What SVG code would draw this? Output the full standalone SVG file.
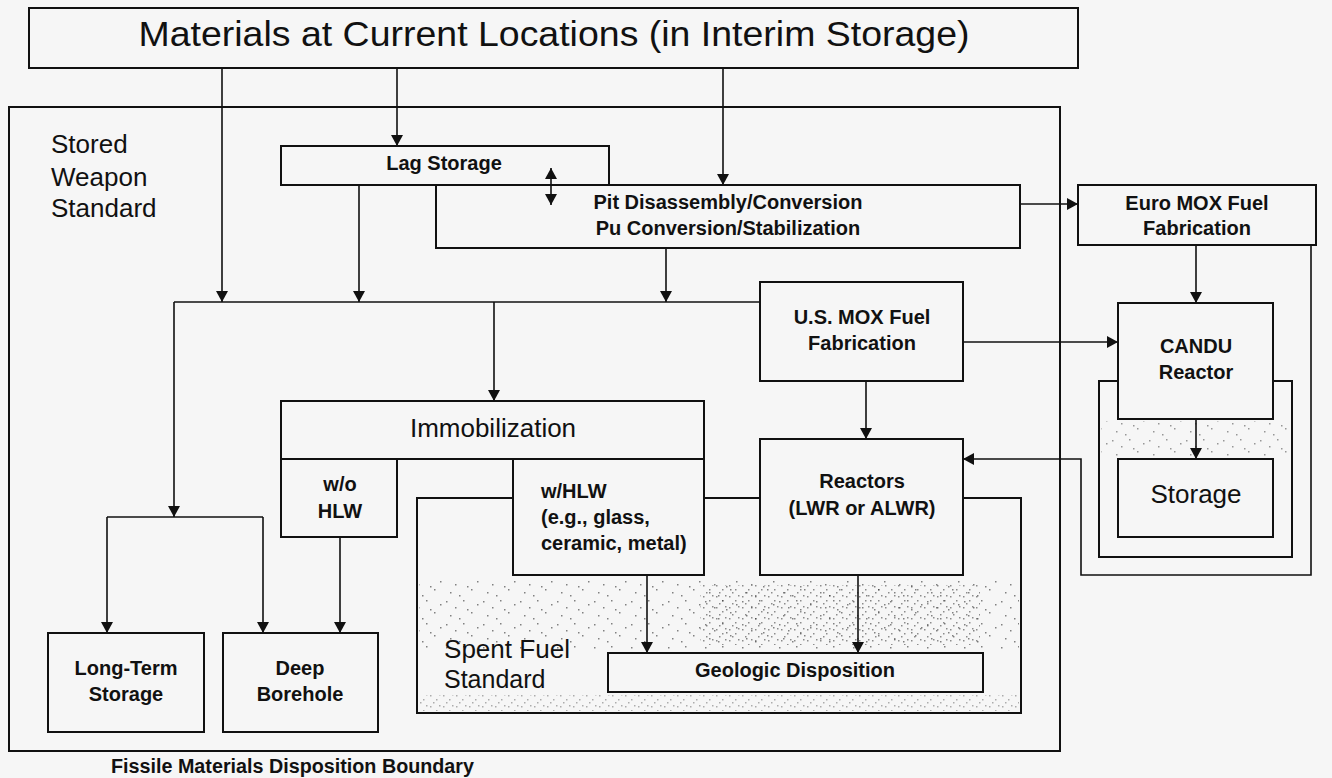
<svg xmlns="http://www.w3.org/2000/svg" width="1332" height="778" viewBox="0 0 1332 778">
<style>
.bx{fill:#f6f6f6;stroke:#111;stroke-width:2}
.fr{fill:none;stroke:#111;stroke-width:2}
.ln{fill:none;stroke:#111;stroke-width:1.6}
.ar{fill:none;stroke:#111;stroke-width:1.6;marker-end:url(#ah)}
text{font-family:"Liberation Sans",Arial,sans-serif;fill:#111}
.t21{font-size:20px;font-weight:bold;text-anchor:middle}
.tl{font-size:20px;font-weight:bold}
.t26{font-size:26px;text-anchor:middle}
.big{font-size:26px}
</style>
<defs>
<marker id="ah" markerUnits="userSpaceOnUse" markerWidth="12" markerHeight="12" refX="11" refY="6" orient="auto-start-reverse">
<path d="M0,0 L11,6 L0,12 z" fill="#111"/>
</marker>
<pattern id="spk" patternUnits="userSpaceOnUse" width="37" height="23">
<rect x="2" y="3" width="1.5" height="1.5" fill="#222"/>
<rect x="11" y="9" width="1.5" height="1.5" fill="#222"/>
<rect x="19" y="2" width="1.5" height="1.5" fill="#222"/>
<rect x="27" y="14" width="1.5" height="1.5" fill="#222"/>
<rect x="6" y="17" width="1.5" height="1.5" fill="#222"/>
<rect x="33" y="6" width="1.5" height="1.5" fill="#222"/>
<rect x="15" y="20" width="1.5" height="1.5" fill="#222"/>
<rect x="23" y="11" width="1.5" height="1.5" fill="#222"/>
</pattern>
<pattern id="spk2" patternUnits="userSpaceOnUse" width="13" height="11">
<rect x="1" y="2" width="1.5" height="1.5" fill="#222"/>
<rect x="7" y="6" width="1.5" height="1.5" fill="#222"/>
<rect x="10" y="1" width="1.5" height="1.5" fill="#222"/>
<rect x="4" y="9" width="1.5" height="1.5" fill="#222"/>
</pattern>
</defs>
<rect x="0" y="0" width="1332" height="778" fill="#f6f6f6"/>

<g id="boundary">
<rect class="fr" x="9" y="107" width="1051" height="644"/>
<text x="111" y="773" style="font-size:20px;font-weight:bold" textLength="363" lengthAdjust="spacingAndGlyphs">Fissile Materials Disposition Boundary</text>
</g>

<g id="stored-weapon-standard">
<text class="big" x="51" y="153">Stored</text>
<text class="big" x="51" y="186">Weapon</text>
<text class="big" x="51" y="217">Standard</text>
</g>

<g id="spent-fuel-standard">
<rect class="fr" x="417" y="498" width="604" height="215"/>
<rect x="419" y="580" width="600" height="70" fill="url(#spk)" opacity="0.55"/>
<rect x="700" y="585" width="280" height="60" fill="url(#spk2)" opacity="0.5"/>
<rect x="419" y="695" width="600" height="16" fill="url(#spk2)" opacity="0.35"/>
<text x="444" y="658" style="font-size:25px" textLength="126" lengthAdjust="spacingAndGlyphs">Spent Fuel</text>
<text x="444" y="688" style="font-size:25px">Standard</text>
</g>

<g id="candu-frame">
<rect class="fr" x="1099" y="381" width="193" height="176"/>
<rect x="1101" y="421" width="189" height="36" fill="url(#spk)" opacity="0.45"/>
</g>

<g id="connectors">
<path class="ar" d="M397,68 V146"/>
<path class="ar" d="M723,68 V185"/>
<path class="ar" d="M222,68 V302"/>
<path class="ar" d="M359,185 V302"/>
<path class="ar" d="M666,248 V302"/>
<path class="ln" d="M174,302 H760"/>
<path class="ar" d="M174,302 V517"/>
<path class="ln" d="M107,517 H263"/>
<path class="ar" d="M107,517 V633"/>
<path class="ar" d="M263,517 V633"/>
<path class="ar" d="M494,302 V401"/>
<path class="ar" d="M340,537 V633"/>
<path class="ar" d="M647,575 V653"/>
<path class="ar" d="M858,575 V653"/>
<path class="ar" d="M866,381 V439"/>
<path class="ar" d="M963,342 H1118"/>
<path class="ar" d="M1020,204 H1078"/>
<path class="ar" d="M1196,245 V303"/>
<path class="ar" d="M1196,419 V459"/>
<path class="ar" d="M1311,245 V575 H1081 V459 H963"/>
</g>

<g id="title">
<rect class="bx" x="29" y="8" width="1049" height="60"/>
<text x="554" y="46" style="font-size:35px;text-anchor:middle" textLength="831" lengthAdjust="spacingAndGlyphs">Materials at Current Locations (in Interim Storage)</text>
</g>

<g id="lag-storage">
<rect class="bx" x="281" y="146" width="328" height="39"/>
<text class="t21" x="444" y="170">Lag Storage</text>
</g>

<g id="pit-disassembly">
<rect class="bx" x="436" y="185" width="584" height="63"/>
<text class="t21" x="728" y="209">Pit Disassembly/Conversion</text>
<text class="t21" x="728" y="235">Pu Conversion/Stabilization</text>
</g>
<path class="ar" d="M551,168 V205" style="marker-start:url(#ah)"/>

<g id="euro-mox">
<rect class="bx" x="1078" y="185" width="238" height="60"/>
<text class="t21" x="1197" y="210">Euro MOX Fuel</text>
<text class="t21" x="1197" y="235">Fabrication</text>
</g>

<g id="us-mox">
<rect class="bx" x="760" y="282" width="203" height="99"/>
<text class="t21" x="862" y="324">U.S. MOX Fuel</text>
<text class="t21" x="862" y="350">Fabrication</text>
</g>

<g id="immobilization">
<rect class="bx" x="281" y="401" width="423" height="58"/>
<text class="t26" x="493" y="437">Immobilization</text>
</g>

<g id="wo-hlw">
<rect class="bx" x="281" y="459" width="116" height="78"/>
<text class="t21" x="340" y="491">w/o</text>
<text class="t21" x="340" y="518">HLW</text>
</g>

<g id="w-hlw">
<rect class="bx" x="513" y="459" width="191" height="116"/>
<text class="tl" x="541" y="498">w/HLW</text>
<text class="tl" x="541" y="524">(e.g., glass,</text>
<text class="tl" x="541" y="550">ceramic, metal)</text>
</g>

<g id="reactors">
<rect class="bx" x="760" y="439" width="203" height="136"/>
<text class="t21" x="862" y="488">Reactors</text>
<text class="t21" x="862" y="515">(LWR or ALWR)</text>
</g>

<g id="geologic">
<rect class="bx" x="608" y="653" width="375" height="39"/>
<text class="t21" x="795" y="677">Geologic Disposition</text>
</g>

<g id="long-term">
<rect class="bx" x="48" y="633" width="156" height="99"/>
<text class="t21" x="126" y="675">Long-Term</text>
<text class="t21" x="126" y="701">Storage</text>
</g>

<g id="deep-borehole">
<rect class="bx" x="223" y="633" width="155" height="99"/>
<text class="t21" x="300" y="675">Deep</text>
<text class="t21" x="300" y="701">Borehole</text>
</g>

<g id="candu">
<rect class="bx" x="1118" y="303" width="155" height="116"/>
<text class="t21" x="1196" y="353">CANDU</text>
<text class="t21" x="1196" y="379">Reactor</text>
</g>

<g id="storage">
<rect class="bx" x="1118" y="459" width="155" height="78"/>
<text class="t26" x="1196" y="503">Storage</text>
</g>
</svg>
